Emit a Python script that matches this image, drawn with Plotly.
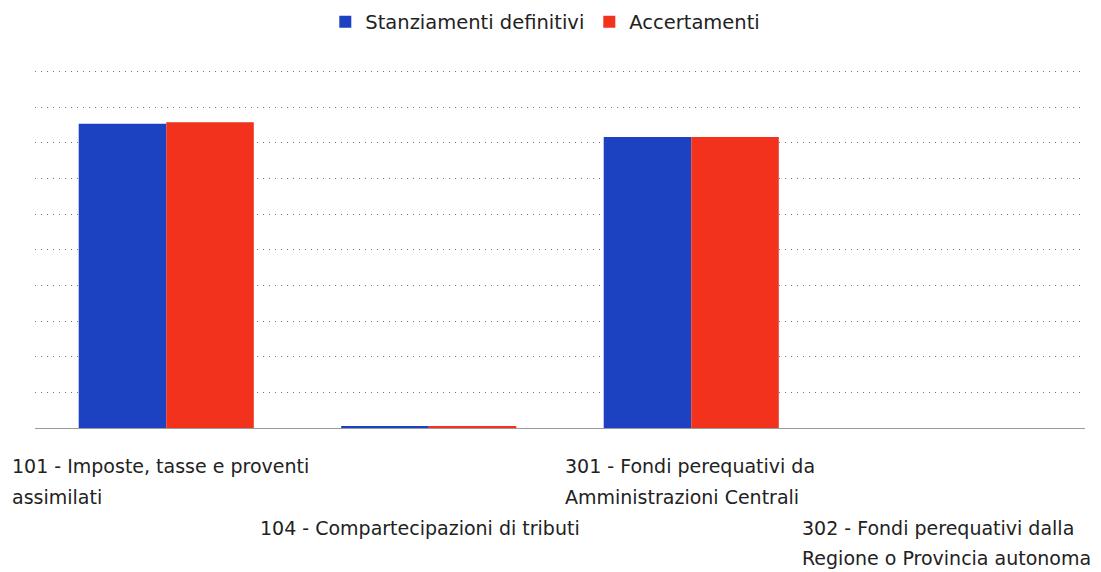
import plotly.graph_objects as go

## Data ##
categories = ["101", "104", "301", "302"]
label_lines = [
    ["101 - Imposte, tasse e proventi", "assimilati"],
    ["104 - Compartecipazioni di tributi"],
    ["301 - Fondi perequativi da", "Amministrazioni Centrali"],
    ["302 - Fondi perequativi dalla", "Regione o Provincia autonoma"],
]
stanziamenti = [8.54, 0.04, 8.17, 0.0]
accertamenti = [8.58, 0.04, 8.17, 0.0]

FONT = "DejaVu Sans"

fig = go.Figure()
fig.add_trace(go.Bar(
    x=categories, y=stanziamenti, name="Stanziamenti definitivi",
    marker=dict(color="#1c42c2", line=dict(width=0))
))
fig.add_trace(go.Bar(
    x=categories, y=accertamenti, name="Accertamenti",
    marker=dict(color="#f2321c", line=dict(width=0))
))

## Category labels: staggered, left aligned blocks ##
block_shift = [-156, -171, -128, -154]
row_shift = [[-38, -69], [-100], [-38, -69], [-100, -130]]
for i, cat in enumerate(categories):
    for j, line in enumerate(label_lines[i]):
        fig.add_annotation(
            x=i, y=0, xref="x", yref="y",
            text=line, showarrow=False,
            xanchor="left", yanchor="middle",
            xshift=block_shift[i], yshift=row_shift[i][j],
            font=dict(family=FONT, size=19, color="#222222")
        )

# page body has an 8px margin, so the plot box is nudged up/left to compensate
fig.update_layout(
    width=1101, height=572,
    margin=dict(l=27, r=24, t=53, b=152, autoexpand=False),
    plot_bgcolor="white", paper_bgcolor="white",
    barmode="group", bargap=0.333, bargroupgap=0,
    font=dict(family=FONT, size=19, color="#222222"),
    legend=dict(orientation="h", x=0.486, xanchor="center", y=1.106, yanchor="middle",
                font=dict(family=FONT, size=19.5), itemwidth=30, traceorder="normal"),
    showlegend=True,
)
fig.update_xaxes(type="category", showticklabels=False, showgrid=False, zeroline=False,
                 showline=False, range=[-0.5, 3.5])
fig.update_yaxes(range=[0, 10.3], dtick=1, showticklabels=False,
                 showgrid=True, gridcolor="#7a7a7a", griddash="1px,5px", gridwidth=1,
                 zeroline=True, zerolinecolor="#9a9a9a", zerolinewidth=1)

fig.write_html("out.html")
